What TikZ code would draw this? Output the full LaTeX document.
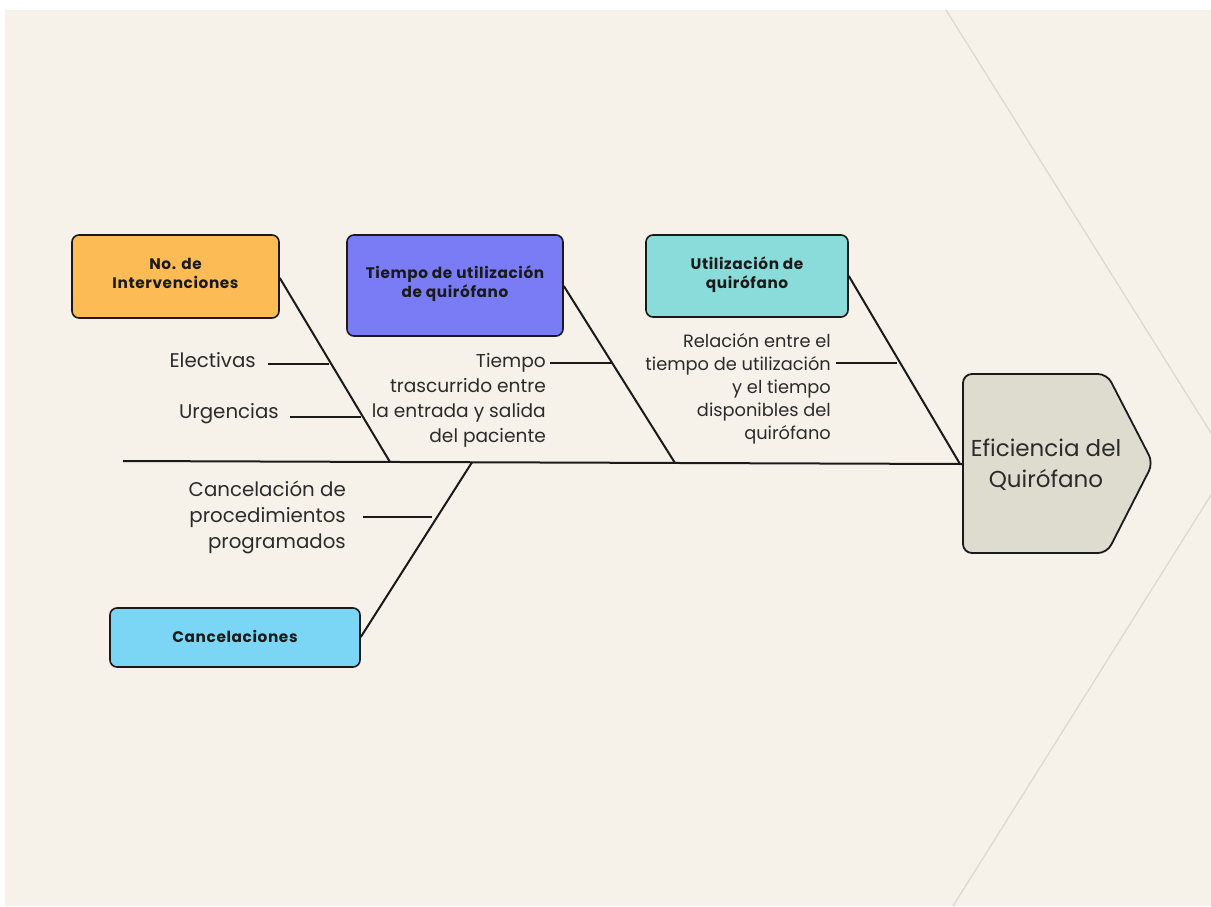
\documentclass[tikz,border=0pt]{standalone}
\usepackage{fontspec}
\setmainfont{Poppins}
\newfontfamily\labfont[LetterSpace=4]{Poppins}
\definecolor{bgcream}{HTML}{F6F2EA}
\definecolor{bgline}{HTML}{DDD9CD}
\definecolor{cOrange}{HTML}{FDBB55}
\definecolor{cViolet}{HTML}{7A7CF5}
\definecolor{cTeal}{HTML}{8ADCDA}
\definecolor{cSky}{HTML}{7BD5F5}
\definecolor{cHead}{HTML}{DEDBCF}
\definecolor{ink}{HTML}{1A1A1A}
\definecolor{txt}{HTML}{2B2B2B}
\tikzset{
  catbox/.style={draw=ink, line width=1.6pt, rounded corners=7pt, inner sep=0pt},
  bone/.style={draw=ink, line width=2pt},
  twig/.style={draw=ink, line width=2pt},
  cattext/.style={font=\labfont\bfseries\fontsize{15.3}{19}\selectfont, text=ink, align=center},
  subtext/.style={font=\fontsize{19.8}{25}\selectfont, text=txt, align=right, inner sep=0pt},
}
\begin{document}
\begin{tikzpicture}[x=1pt,y=-1pt]
\useasboundingbox (0,0) rectangle (1211,906);
\fill[white] (0,0) rectangle (1211,906);
\fill[bgcream] (5,10) rectangle (1211,906);
\draw[bgline, line width=1.3pt] (946,10) -- (1211,433);
\draw[bgline, line width=1.3pt] (1211,495) -- (953,906);

% spine
\coordinate (tail) at (123,461);
\coordinate (headin) at (962,464);
\draw[bone] (tail) -- (headin);

% head
\draw[draw=ink, line width=1.8pt, fill=cHead, rounded corners=9pt]
  (963,374) -- (1107,374) -- (1153,463) -- (1107,553) -- (963,553) -- cycle;
\node[font=\fontsize{23}{31}\selectfont, text=txt, align=center] (head) at (1046,465) {Eficiencia del\\Quirófano};

% category boxes
\node[catbox, fill=cOrange, minimum width=207pt, minimum height=83pt] (b1) at (175.5,276.5) {};
\node[cattext] at (175.5,273.5) {No. de\\Intervenciones};
\node[catbox, fill=cViolet, minimum width=216pt, minimum height=101pt] (b2) at (455,285.5) {};
\node[cattext] at (455,283.5) {Tiempo de utilización\\de quirófano};
\node[catbox, fill=cTeal, minimum width=202pt, minimum height=82pt] (b3) at (747,276) {};
\node[cattext] at (747,275) {Utilización de\\quirófano};
\node[catbox, fill=cSky, minimum width=250pt, minimum height=59pt] (b4) at (235,637.5) {};
\node[cattext] at (235,636) {Cancelaciones};

% bones
\coordinate (j1) at (390,462);
\coordinate (j2) at (675,463);
\coordinate (j3) at (960,464);
\coordinate (j4) at (472,462.3);
\draw[bone] (b1.east |- 0,278) -- (j1);
\draw[bone] (b2.east |- 0,286) -- (j2);
\draw[bone] (b3.east |- 0,276) -- (j3);
\draw[bone] (b4.east |- 0,637) -- (j4);

% sub causes
\node[subtext, anchor=east] (s1) at (256,360) {Electivas};
\coordinate (s1a) at (268,364); \coordinate (s1b) at (329,364);
\draw[twig] (s1a) -- (s1b);
\node[subtext, anchor=east] (s2) at (279,414) {Urgencias};
\coordinate (s2a) at (290,417); \coordinate (s2b) at (361,417);
\draw[twig] (s2a) -- (s2b);

\node[subtext, anchor=north east, font=\fontsize{18.6}{25}\selectfont] (s3) at (546,353) {Tiempo\\trascurrido entre\\la entrada y salida\\del paciente};
\coordinate (s3a) at (550,363); \coordinate (s3b) at (612,363);
\draw[twig] (s3a) -- (s3b);

\node[subtext, anchor=north east, font=\fontsize{17.8}{23}\selectfont] (s4) at (831,333) {Relación entre el\\tiempo de utilización\\y el tiempo\\disponibles del\\quirófano};
\coordinate (s4a) at (836,363); \coordinate (s4b) at (897,363);
\draw[twig] (s4a) -- (s4b);

\node[subtext, anchor=north east, font=\fontsize{19.8}{25.8}\selectfont] (s5) at (346,481) {Cancelación de\\procedimientos\\programados};
\coordinate (s5a) at (363,517); \coordinate (s5b) at (432,517);
\draw[twig] (s5a) -- (s5b);
\end{tikzpicture}
\end{document}
